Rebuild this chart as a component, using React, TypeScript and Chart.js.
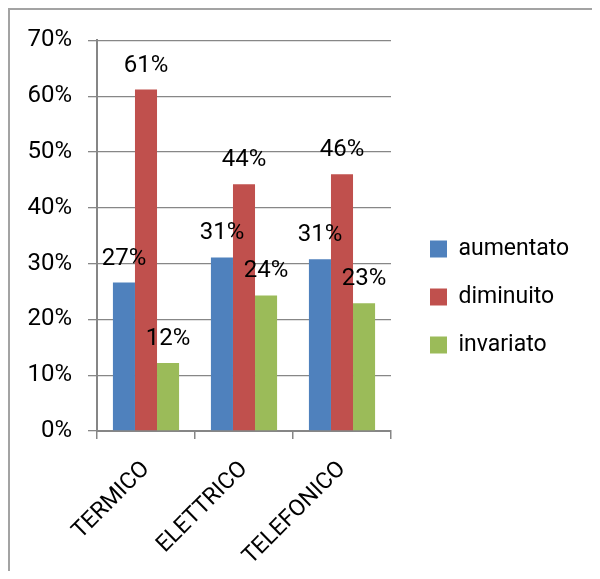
import React, { useEffect, useRef } from "react";
import { Chart, registerables } from "chart.js";

Chart.register(...registerables);

const categories = ["TERMICO", "ELETTRICO", "TELEFONICO"];
const seriesNames = ["aumentato", "diminuito", "invariato"];
const aumentato = [26.6, 31.1, 30.8];
const diminuito = [61.2, 44.2, 46.0];
const invariato = [12.2, 24.3, 22.9];
const seriesColors = ["#4F81BD", "#C0504D", "#9BBB59"];
const yMin = 0;
const yMax = 70;
const yStep = 10;

const FONT = "Roboto, 'Liberation Sans', Arial, sans-serif";
const CANVAS_W = 590;
const CANVAS_H = 561;
const LEGEND_W = 209;

const valueLabels = {
  id: "valueLabels",
  afterDatasetsDraw(chart: any) {
    const ctx = chart.ctx;
    ctx.save();
    ctx.font = `24px ${FONT}`;
    ctx.fillStyle = "#000";
    ctx.textAlign = "center";
    ctx.textBaseline = "alphabetic";
    chart.data.datasets.forEach((ds: any, di: number) => {
      const meta = chart.getDatasetMeta(di);
      meta.data.forEach((bar: any, i: number) => {
        const v = ds.data[i];
        ctx.fillText(Math.round(v) + "%", bar.x, bar.y - 18);
      });
    });
    ctx.restore();
  },
};

const layoutTweak = {
  id: "layoutTweak",
  beforeLayout(chart: any) {
    const lg = chart.legend;
    if (lg && !lg._patchedFit) {
      const orig = lg.fit.bind(lg);
      lg.fit = function () {
        orig();
        this.width = LEGEND_W;
      };
      lg._patchedFit = true;
    }
  },
  beforeDraw(chart: any) {
    const lg = chart.legend;
    if (!lg) return;
    lg.left = chart.chartArea.right + 14;
    lg.right = lg.left + LEGEND_W;
    lg.top = 10;
    lg.bottom = 564;
  },
};

export default function App() {
  const ref = useRef<HTMLCanvasElement | null>(null);

  useEffect(() => {
    if (!ref.current) return;
    const data = [aumentato, diminuito, invariato];
    const chart = new Chart(ref.current, {
      type: "bar",
      data: {
        labels: categories,
        datasets: seriesNames.map((name, i) => ({
          label: name,
          data: data[i],
          backgroundColor: seriesColors[i],
          borderWidth: 0,
          barPercentage: 1,
          categoryPercentage: 0.675,
        })),
      },
      options: {
        responsive: false,
        animation: false,
        devicePixelRatio: 1,
        layout: { padding: { top: 27, left: 0, right: 0, bottom: 0 } },
        plugins: {
          legend: {
            position: "right",
            align: "center",
            labels: {
              boxWidth: 17,
              boxHeight: 17,
              padding: 25,
              color: "#000",
              font: { family: FONT, size: 23 },
            },
          },
          tooltip: { enabled: false },
        },
        scales: {
          x: {
            afterFit(scale: any) {
              scale.height = 140;
            },
            grid: {
              display: true,
              drawOnChartArea: false,
              drawTicks: true,
              tickLength: 8,
              offset: true,
              color: "#868686",
              lineWidth: 1.5,
            },
            border: { display: true, color: "#868686", width: 2 },
            ticks: {
              color: "#000",
              font: { family: FONT, size: 23 },
              minRotation: 45,
              maxRotation: 45,
              padding: 17,
            },
          },
          y: {
            min: yMin,
            max: yMax,
            afterFit(scale: any) {
              scale.width = 87;
            },
            grid: {
              color: "#878787",
              lineWidth: 1.3,
              tickLength: 9,
              drawTicks: true,
            },
            border: { display: true, color: "#868686", width: 2 },
            ticks: {
              stepSize: yStep,
              color: "#000",
              padding: 16,
              font: { family: FONT, size: 24 },
              callback: (v: any) => `${v}%`,
            },
          },
        },
      },
      plugins: [valueLabels, layoutTweak],
    });
    return () => chart.destroy();
  }, []);

  return (
    <div
      style={{
        width: 592,
        height: 563,
        boxSizing: "border-box",
        borderTop: "2px solid #a3a3a3",
        borderLeft: "2px solid #a3a3a3",
        background: "#fff",
      }}
    >
      <canvas
        ref={ref}
        width={CANVAS_W}
        height={CANVAS_H}
        style={{ display: "block", width: CANVAS_W, height: CANVAS_H }}
      />
    </div>
  );
}
